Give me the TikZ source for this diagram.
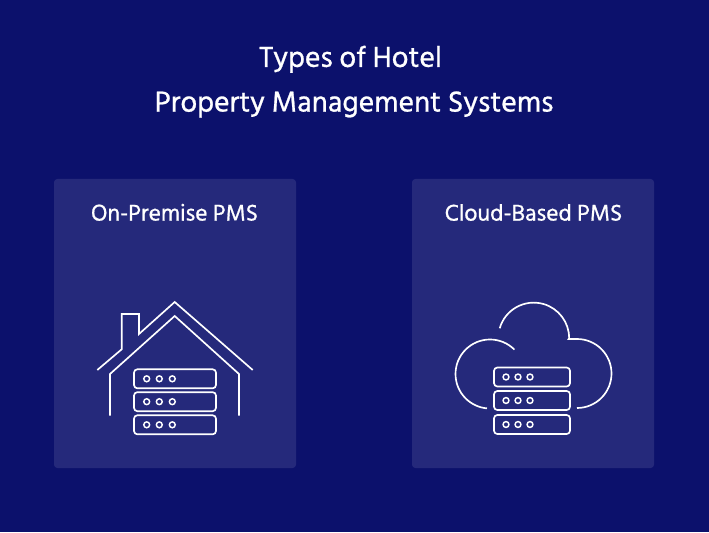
\documentclass[tikz,border=0pt]{standalone}
\usepackage{fontspec}
\setmainfont{Hind Siliguri}[FakeBold=0.8]
\definecolor{bgblue}{HTML}{0C116C}
\definecolor{panelblue}{HTML}{25297B}
\tikzset{
  title/.style={white, anchor=base, font=\fontsize{22.3}{26}\selectfont},
  label/.style={white, anchor=base, font=\fontsize{17.6}{21}\selectfont},
  panel/.style={fill=panelblue, rounded corners=2.5pt, minimum width=181.5pt, minimum height=216.75pt, inner sep=0pt},
  icon/.style={white, line width=1.25pt},
  rackA/.style={draw=white, line width=1.25pt, rounded corners=2.5pt, minimum width=61.5pt, minimum height=14.25pt, inner sep=0pt},
  rackB/.style={rackA, minimum width=57pt},
  led/.style={circle, draw=white, line width=1.1pt, minimum size=4.4pt, inner sep=0pt}
}
\begin{document}
\begin{tikzpicture}[x=0.75pt,y=0.75pt]
\fill[bgblue] (0,0) rectangle (709,532);
\useasboundingbox (0,0) rectangle (709,532);
\node[title] (title0) at (350.5,465){Types of Hotel};
\node[title] (title1) at (354,420.3){Property Management Systems};
\node[panel] (panel0) at (175,208.5){};
\node[panel] (panel1) at (533,208.5){};
\node[label] (label0) at (174.5,311.3){On-Premise PMS};
\node[label] (label1) at (533.5,311.3){Cloud-Based PMS};
% house
\draw[icon] (97.3,162) -- (121.7,182.7) -- (121.7,218) -- (139,218) -- (139,198) -- (174.7,230) -- (252.7,162);
\draw[icon] (110,116.3) -- (110,158) -- (174.7,216) -- (239,158) -- (239,116.3);
\node[rackA] (hrack0) at (175,153.2){};
\node[rackA] (hrack1) at (175,130.3){};
\node[rackA] (hrack2) at (175,107.2){};
\node[led] (hled0) at (146.7,153.2){};
\node[led] (hled1) at (159.3,153.2){};
\node[led] (hled2) at (172.3,153.2){};
\node[led] (hled3) at (146.7,130.3){};
\node[led] (hled4) at (159.3,130.3){};
\node[led] (hled5) at (172.3,130.3){};
\node[led] (hled6) at (146.7,107.2){};
\node[led] (hled7) at (159.3,107.2){};
\node[led] (hled8) at (172.3,107.2){};
% cloud
\draw[icon] (499.7,203.7) arc[start angle=164, end angle=0, radius=35.4] -- (568.6,193) -- (577,193) arc[start angle=90, end angle=-90, radius=34.5];
\draw[icon] (514.4,182.4) arc[start angle=45, end angle=265, radius=34.5];
\node[rackB] (crack0) at (532,155){};
\node[rackB] (crack1) at (532,131.5){};
\node[rackB] (crack2) at (532,107.5){};
\node[led] (cled0) at (506,155){};
\node[led] (cled1) at (518,155){};
\node[led] (cled2) at (530,155){};
\node[led] (cled3) at (506,131.5){};
\node[led] (cled4) at (518,131.5){};
\node[led] (cled5) at (530,131.5){};
\node[led] (cled6) at (506,107.5){};
\node[led] (cled7) at (518,107.5){};
\node[led] (cled8) at (530,107.5){};
\end{tikzpicture}
\end{document}
